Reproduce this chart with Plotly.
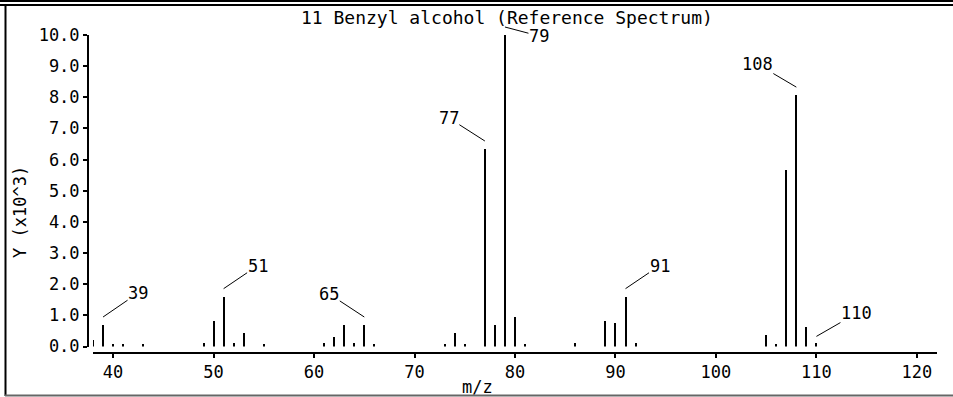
import plotly.graph_objects as go

# ---- data ----
mz = [38, 39, 40, 41, 43, 49, 50, 51, 52, 53, 55, 61, 62, 63, 64, 65, 66,
      73, 74, 75, 77, 78, 79, 80, 81, 86, 89, 90, 91, 92, 105, 106, 107,
      108, 109, 110]
intensity = [0.20, 0.69, 0.08, 0.08, 0.08, 0.12, 0.82, 1.60, 0.10, 0.43,
             0.08, 0.12, 0.31, 0.69, 0.12, 0.69, 0.07, 0.08, 0.43, 0.07,
             6.34, 0.69, 10.0, 0.95, 0.08, 0.12, 0.82, 0.75, 1.60, 0.12,
             0.37, 0.08, 5.67, 8.07, 0.63, 0.10]
labeled_peaks = [39, 51, 65, 77, 79, 91, 108, 110]
x_ticks = [40, 50, 60, 70, 80, 90, 100, 110, 120]
y_ticks = [0, 1, 2, 3, 4, 5, 6, 7, 8, 9, 10]
title_text = "11 Benzyl alcohol (Reference Spectrum)"
x_title = "m/z"
y_title = "Y (x10^3)"

# ---- style ----
label_offsets = {39: (35, -24, 8), 51: (34, -23, 8), 65: (-35, -23, 8),
                 77: (-36, -23, 8), 79: (34, 9, 8), 91: (34, -23, 8),
                 108: (-39, -23, 8), 110: (40, -23, 7)}
W, H = 953, 397
L, R, T, B = 88, 16, 35, 44
FONT = dict(family="DejaVu Sans Mono", size=17, color="black")
TITLE_FONT = dict(family="DejaVu Sans Mono", size=18, color="black")


def px_x(px):
    return (px - L) / (W - L - R)


def px_y(py):
    return (H - B - py) / (H - T - B)


fig = go.Figure()
fig.add_trace(go.Bar(x=mz, y=intensity, width=0.2,
                     marker=dict(color="black", line=dict(width=0)),
                     hoverinfo="x+y"))

annotations = []
for p in labeled_peaks:
    ax, ay, ys = label_offsets[p]
    annotations.append(dict(
        x=p, y=intensity[mz.index(p)], xref="x", yref="y", text=str(p),
        showarrow=True, arrowhead=0, arrowwidth=1, arrowcolor="black",
        ax=ax, ay=ay, yshift=ys, font=FONT, borderpad=0))

annotations.append(dict(x=px_x(507), y=px_y(18), xref="paper", yref="paper",
                        text=title_text, showarrow=False, font=TITLE_FONT,
                        xanchor="center", yanchor="middle"))
annotations.append(dict(x=px_x(477), y=px_y(387), xref="paper", yref="paper",
                        text=x_title, showarrow=False, font=FONT,
                        xanchor="center", yanchor="middle"))
annotations.append(dict(x=px_x(20), y=px_y(212), xref="paper", yref="paper",
                        text=y_title, showarrow=False, font=FONT,
                        textangle=-90, xanchor="center", yanchor="middle"))

shapes = [
    dict(type="line", xref="paper", yref="paper", x0=px_x(0), x1=px_x(953),
         y0=px_y(1), y1=px_y(1), line=dict(color="black", width=2)),
    dict(type="line", xref="paper", yref="paper", x0=px_x(0), x1=px_x(953),
         y0=px_y(5), y1=px_y(5), line=dict(color="black", width=2)),
    dict(type="line", xref="paper", yref="paper", x0=px_x(5.5), x1=px_x(5.5),
         y0=px_y(5), y1=px_y(396), line=dict(color="black", width=2)),
    dict(type="line", xref="paper", yref="paper", x0=px_x(5), x1=px_x(953),
         y0=px_y(395.5), y1=px_y(395.5), line=dict(color="#666666", width=2)),
]

fig.update_layout(
    width=W, height=H,
    margin=dict(l=L, r=R, t=T, b=B, pad=0),
    paper_bgcolor="white", plot_bgcolor="white",
    showlegend=False, bargap=0,
    font=FONT,
    annotations=annotations, shapes=shapes,
    xaxis=dict(domain=[px_x(93), 1], range=[38, 122], anchor="free",
               position=0, tickmode="array", tickvals=x_ticks,
               ticktext=[str(v) for v in x_ticks],
               showline=True, linecolor="black", linewidth=2,
               ticks="outside", ticklen=4, tickwidth=2, tickcolor="black",
               showgrid=False, zeroline=False, tickfont=FONT),
    yaxis=dict(domain=[(353 - 346.5) / (H - T - B), 1], range=[0, 10],
               anchor="free", position=0, tickmode="array", tickvals=y_ticks,
               ticktext=["%.1f" % v for v in y_ticks],
               showline=True, linecolor="black", linewidth=2,
               ticks="outside", ticklen=4, tickwidth=2, tickcolor="black",
               showgrid=False, zeroline=False, tickfont=FONT),
)

fig.write_html(
    "out.html",
    config={"displayModeBar": False},
    post_script="document.body.style.margin='0';document.body.style.padding='0';"
                "document.body.style.overflow='hidden';",
)
